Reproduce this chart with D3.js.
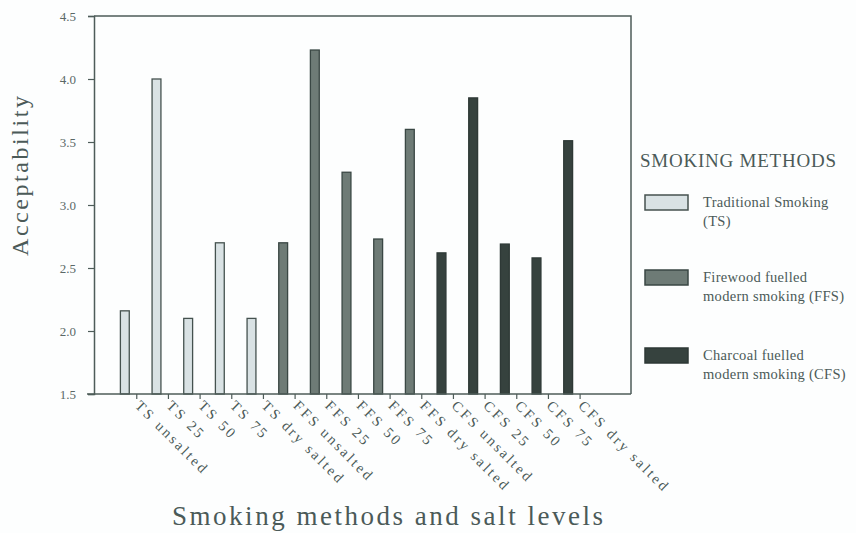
<!DOCTYPE html>
<html>
<head>
<meta charset="utf-8">
<script src="https://cdn.jsdelivr.net/npm/d3@7"></script>
<style>
  body { margin: 0; background: #fdfefe; }
  text { font-family: "Liberation Serif", "Times New Roman", Times, serif; fill: #4b5a58; }
</style>
</head>
<body>
<div class="chart"></div>
<script>
var svgWidth = 856;
var svgHeight = 533;

// data
var categories = ["TS unsalted", "TS 25", "TS 50", "TS 75", "TS dry salted",
  "FFS unsalted", "FFS 25", "FFS 50", "FFS 75", "FFS dry salted",
  "CFS unsalted", "CFS 25", "CFS 50", "CFS 75", "CFS dry salted"];
var methodOf = ["TS", "TS", "TS", "TS", "TS",
  "FFS", "FFS", "FFS", "FFS", "FFS",
  "CFS", "CFS", "CFS", "CFS", "CFS"];
var acceptability = [2.16, 4.0, 2.1, 2.7, 2.1,
  2.7, 4.23, 3.26, 2.73, 3.6,
  2.62, 3.85, 2.69, 2.58, 3.51];
var yTicks = [1.5, 2.0, 2.5, 3.0, 3.5, 4.0, 4.5];
var methods = ["TS", "FFS", "CFS"];
var methodLabels = [
  ["Traditional Smoking", "(TS)"],
  ["Firewood fuelled", "modern smoking (FFS)"],
  ["Charcoal fuelled", "modern smoking (CFS)"]
];

var fills = { TS: "#d9e2e4", FFS: "#6e7b76", CFS: "#36423e" };
var strokes = { TS: "#45524f", FFS: "#3a4744", CFS: "#2e3936" };

var plot = { left: 94, right: 631, top: 16, bottom: 394 };

var svg = d3.select(".chart")
  .append("svg")
  .attr("width", svgWidth)
  .attr("height", svgHeight);

var yScale = d3.scaleLinear()
  .domain([1.5, 4.5])
  .range([plot.bottom, plot.top]);

var xScale = d3.scaleBand()
  .domain(categories)
  .range([109, 584])
  .paddingInner(0.72)
  .paddingOuter(0.36);

// frame (top + right)
svg.append("path")
  .attr("d", `M${plot.left},${plot.top}H${plot.right}V${plot.bottom}`)
  .attr("fill", "none")
  .attr("stroke", "#4e5c59")
  .attr("stroke-width", 1.5);

// bars
svg.append("g").selectAll("rect")
  .data(categories)
  .enter()
  .append("rect")
  .attr("x", d => xScale(d))
  .attr("width", xScale.bandwidth())
  .attr("y", (d, i) => yScale(acceptability[i]))
  .attr("height", (d, i) => yScale(1.5) - yScale(acceptability[i]))
  .attr("fill", (d, i) => fills[methodOf[i]])
  .attr("stroke", (d, i) => strokes[methodOf[i]])
  .attr("stroke-width", 1.3);

// y axis
var leftAxis = d3.axisLeft(yScale)
  .tickValues(yTicks)
  .tickFormat(d3.format(".1f"))
  .tickSize(6)
  .tickPadding(12);

var yAxis = svg.append("g")
  .attr("transform", `translate(${plot.left}, 0)`)
  .call(leftAxis);
yAxis.select(".domain").attr("stroke", "#4e5c59").attr("stroke-width", 1.5);
yAxis.selectAll(".tick line").attr("stroke", "#4e5c59").attr("stroke-width", 1.2);
yAxis.selectAll(".tick text")
  .attr("font-size", "13px")
  .style("fill", "#5a6866");

// x axis line (extends a bit left)
svg.append("line")
  .attr("x1", 87).attr("x2", plot.right)
  .attr("y1", plot.bottom).attr("y2", plot.bottom)
  .attr("stroke", "#4e5c59")
  .attr("stroke-width", 1.5);

// x ticks sit just right of each bar
var tickOff = xScale.bandwidth() / 2 + 7.5;
var xt = svg.append("g").selectAll("g")
  .data(categories)
  .enter()
  .append("g")
  .attr("transform", d => `translate(${xScale(d) + xScale.bandwidth() / 2 + tickOff}, ${plot.bottom})`);

xt.append("line")
  .attr("y1", 0).attr("y2", 5)
  .attr("stroke", "#4e5c59")
  .attr("stroke-width", 1.2);

xt.append("text")
  .attr("transform", "translate(1, 9) rotate(45)")
  .attr("dy", "0.35em")
  .attr("font-size", "14.5px")
  .attr("letter-spacing", "2.6px")
  .text(d => d);

// axis titles
svg.append("text")
  .attr("transform", "translate(28, 176) rotate(-90)")
  .attr("text-anchor", "middle")
  .attr("font-size", "24px")
  .attr("textLength", 160)
  .attr("lengthAdjust", "spacing")
  .text("Acceptability");

svg.append("text")
  .attr("x", 172)
  .attr("y", 525)
  .attr("font-size", "27px")
  .attr("textLength", 431)
  .attr("lengthAdjust", "spacing")
  .text("Smoking methods and salt levels");

// legend
svg.append("text")
  .attr("x", 640)
  .attr("y", 167)
  .attr("font-size", "19px")
  .attr("textLength", 196)
  .attr("lengthAdjust", "spacing")
  .text("SMOKING METHODS");

var legendY = [195, 270, 348];
var legend = svg.append("g").selectAll("g")
  .data(methods)
  .enter()
  .append("g")
  .attr("transform", (d, i) => `translate(645, ${legendY[i]})`);

legend.append("rect")
  .attr("width", 43)
  .attr("height", 15)
  .attr("fill", d => fills[d])
  .attr("stroke", d => strokes[d])
  .attr("stroke-width", 1.5);

legend.append("text")
  .attr("x", 58)
  .attr("y", 12)
  .attr("font-size", "14.5px")
  .attr("letter-spacing", "0.3px")
  .text((d, i) => methodLabels[i][0]);

legend.append("text")
  .attr("x", 58)
  .attr("y", 31)
  .attr("font-size", "14.5px")
  .attr("letter-spacing", "0.3px")
  .text((d, i) => methodLabels[i][1]);
</script>
</body>
</html>
